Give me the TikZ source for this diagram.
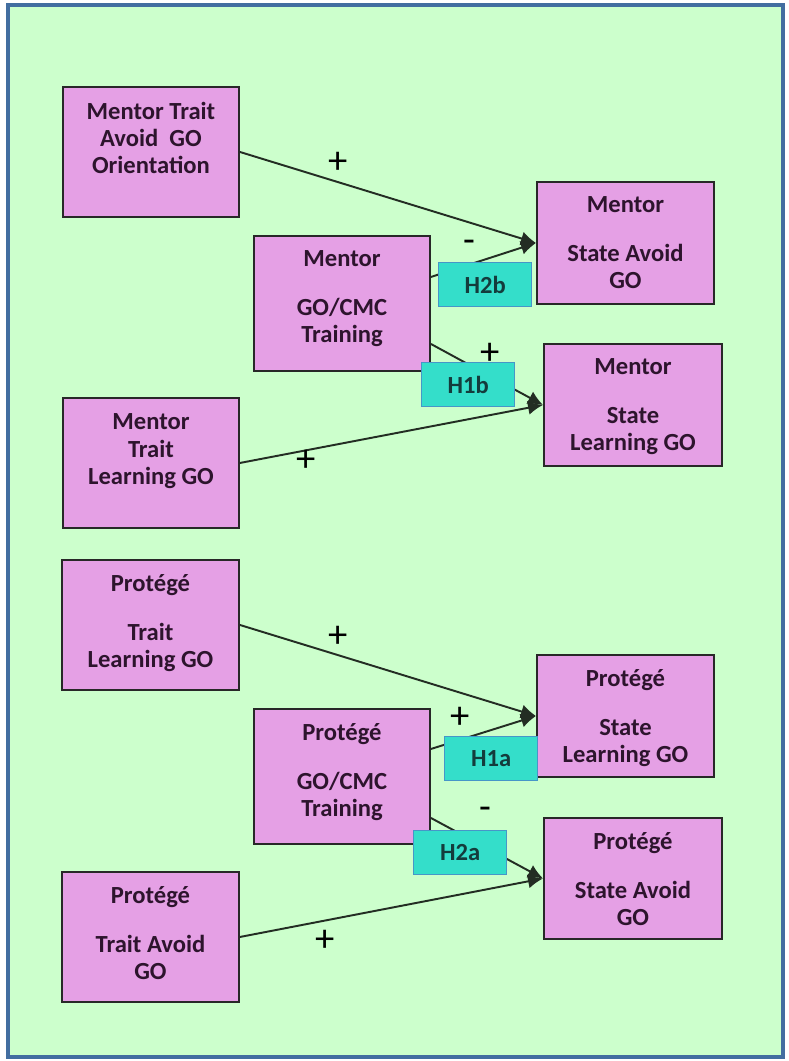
\documentclass[tikz,border=0pt]{standalone}
\usepackage{fontspec}
\setsansfont{Carlito}
\usetikzlibrary{positioning, arrows.meta}

\definecolor{panelgreen}{RGB}{204,255,204}
\definecolor{framblue}{RGB}{66,110,160}
\definecolor{boxpink}{RGB}{229,160,229}
\definecolor{boxline}{RGB}{40,40,40}
\definecolor{boxtext}{RGB}{45,20,45}
\definecolor{hypfill}{RGB}{52,222,202}
\definecolor{hypline}{RGB}{70,150,200}
\definecolor{hyptext}{RGB}{20,60,60}
\definecolor{linkgray}{RGB}{35,45,35}

\begin{document}
\begin{tikzpicture}[
    every node/.style={font=\sffamily},
    var/.style={draw=boxline, line width=1.1pt, fill=boxpink, rectangle, inner sep=0pt, anchor=north west},
    body/.style={font=\sffamily\bfseries\fontsize{14}{15.5}\selectfont, text=boxtext, align=center, anchor=north, inner sep=0pt},
    hyp/.style={draw=hypline, line width=0.8pt, fill=hypfill, rectangle, inner sep=0pt, anchor=north west,
                minimum width=1.86cm, minimum height=0.88cm,
                font=\sffamily\bfseries\fontsize{14}{15.5}\selectfont, text=hyptext},
    link/.style={draw=linkgray, line width=1.1pt, -{Latex[length=0.3cm,width=0.28cm]}},
    sign/.style={font=\sffamily\fontsize{22}{22}\selectfont, text=black, inner sep=0pt},
]

% ── Frame ────────────────────────────────────────────────────────────────────
\useasboundingbox (0,0) rectangle (15.76,-21.22);
\fill[white] (0,0) rectangle (15.76,-21.22);
\draw[framblue, line width=0.08cm, fill=panelgreen] (0.16,-0.10) rectangle (15.66,-21.14);

% ── Mentor (upper half) ─────────────────────────────────────────────────────
\node[var, minimum width=3.52cm, minimum height=2.6cm] (mta) at (1.24,-1.72) {};
\node[body] at ([yshift=-0.31cm]mta.north) {Mentor Trait\\Avoid~~GO\\Orientation};

\node[var, minimum width=3.52cm, minimum height=2.7cm] (mgo) at (5.06,-4.70) {};
\node[body] at ([yshift=-0.31cm]mgo.north) {Mentor\\[12pt]GO/CMC\\Training};

\node[var, minimum width=3.52cm, minimum height=2.6cm] (mtl) at (1.24,-7.94) {};
\node[body] at ([yshift=-0.33cm]mtl.north) {Mentor\\Trait\\Learning GO};

\node[var, minimum width=3.54cm, minimum height=2.44cm] (msa) at (10.72,-3.62) {};
\node[body] at ([yshift=-0.31cm]msa.north) {Mentor\\[12pt]State Avoid\\GO};

\node[var, minimum width=3.56cm, minimum height=2.44cm] (msl) at (10.86,-6.86) {};
\node[body] at ([yshift=-0.31cm]msl.north) {Mentor\\[12pt]State\\Learning GO};

% ── Protégé (lower half) ────────────────────────────────────────────────────
\node[var, minimum width=3.54cm, minimum height=2.6cm] (ptl) at (1.22,-11.18) {};
\node[body] at ([yshift=-0.31cm]ptl.north) {Protégé\\[12pt]Trait\\Learning GO};

\node[var, minimum width=3.52cm, minimum height=2.7cm] (pgo) at (5.06,-14.16) {};
\node[body] at ([yshift=-0.31cm]pgo.north) {Protégé\\[12pt]GO/CMC\\Training};

\node[var, minimum width=3.54cm, minimum height=2.6cm] (pta) at (1.22,-17.42) {};
\node[body] at ([yshift=-0.31cm]pta.north) {Protégé\\[12pt]Trait Avoid\\GO};

\node[var, minimum width=3.54cm, minimum height=2.44cm] (psl) at (10.72,-13.08) {};
\node[body] at ([yshift=-0.31cm]psl.north) {Protégé\\[12pt]State\\Learning GO};

\node[var, minimum width=3.56cm, minimum height=2.42cm] (psa) at (10.86,-16.34) {};
\node[body] at ([yshift=-0.31cm]psa.north) {Protégé\\[12pt]State Avoid\\GO};

% ── Paths ───────────────────────────────────────────────────────────────────
\draw[link] (mta.east) -- (msa.west) node[sign, pos=0.33, yshift=0.38cm] {+};
\draw[link] ([yshift=0.53cm]mgo.east) -- (msa.west) node[sign, pos=0.37, yshift=0.36cm] {-};
\draw[link] ([yshift=-0.81cm]mgo.east) -- (msl.west) node[sign, pos=0.53, yshift=0.45cm] {+};
\draw[link] (mtl.east) -- (msl.west) node[sign, pos=0.22, yshift=-0.22cm] {+};

\draw[link] (ptl.east) -- (psl.west) node[sign, pos=0.33, yshift=0.37cm] {+};
\draw[link] ([yshift=0.55cm]pgo.east) -- (psl.west) node[sign, pos=0.28, yshift=0.43cm] {+};
\draw[link] ([yshift=-0.83cm]pgo.east) -- (psa.west) node[sign, pos=0.49, yshift=0.69cm] {-};
\draw[link] (pta.east) -- (psa.west) node[sign, pos=0.28, yshift=-0.41cm] {+};

% ── Hypotheses (on top of the paths) ────────────────────────────────────────
\node[hyp] (h2b) at (8.76,-5.24) {H2b};
\node[hyp] (h1b) at (8.42,-7.24) {H1b};
\node[hyp] (h1a) at (8.88,-14.72) {H1a};
\node[hyp] (h2a) at (8.26,-16.60) {H2a};

\end{tikzpicture}
\end{document}
